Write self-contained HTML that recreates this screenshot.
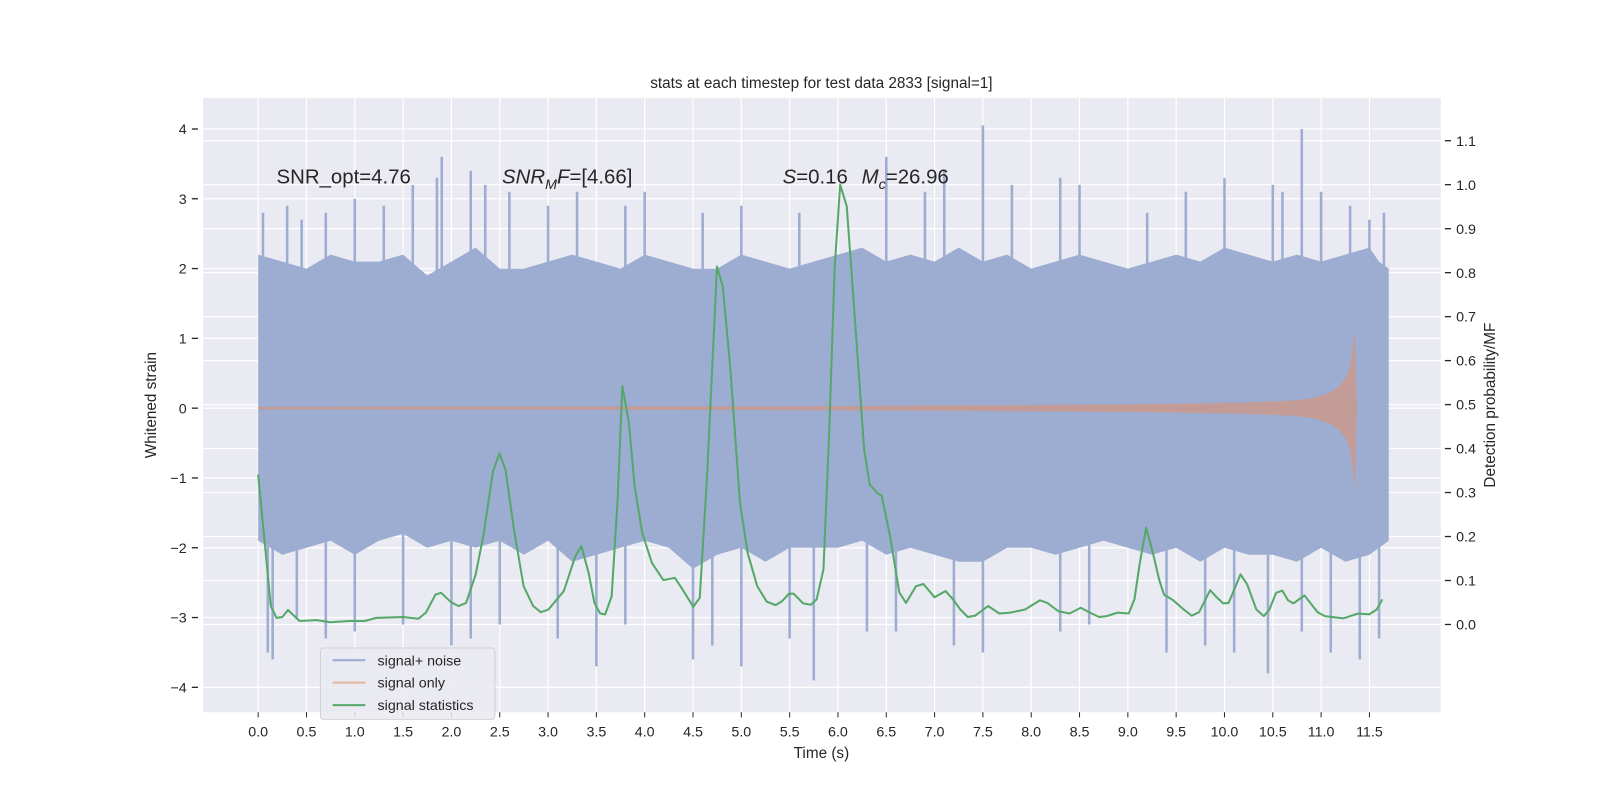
<!DOCTYPE html>
<html><head><meta charset="utf-8"><style>
body{margin:0;background:#fff;}
svg text{font-family:"Liberation Sans","DejaVu Sans",sans-serif;fill:#262626;}
</style></head><body>
<svg id="chart" width="1600" height="800" xmlns="http://www.w3.org/2000/svg">
<rect x="0" y="0" width="1600" height="800" fill="#fff"/>
<g transform="scale(1.0204)">
<rect x="199" y="96" width="1213" height="602" fill="#eaeaf2"/>
<g id="grid"></g>
<g id="noise"></g>
<g id="signal"></g>
<g id="stats"></g>
<g id="axes"></g>
<text x="805" y="86" font-size="15" text-anchor="middle">stats at each timestep for test data 2833 [signal=1]</text>
<text x="271" y="180" font-size="20">SNR_opt=4.76</text>
<text x="492" y="180" font-size="20"><tspan font-style="italic">SNR</tspan><tspan font-style="italic" font-size="14" dy="5">M</tspan><tspan font-style="italic" dy="-5">F</tspan>=[4.66]</text>
<text x="767" y="180" font-size="20"><tspan font-style="italic">S</tspan>=0.16  <tspan font-style="italic" dx="8">M</tspan><tspan font-style="italic" font-size="14" dy="5">c</tspan><tspan dy="-5">=26.96</tspan></text>
<text x="805" y="743" font-size="15" text-anchor="middle">Time (s)</text>
<text transform="translate(153,397) rotate(-90)" font-size="15" text-anchor="middle">Whitened strain</text>
<text transform="translate(1465,397) rotate(-90)" font-size="15" text-anchor="middle">Detection probability/MF</text>
<g>
<rect x="314" y="635" width="171" height="70" rx="3" fill="#eaeaf2" stroke="#cccccc" stroke-width="1" opacity="0.85"/>
<line x1="326" y1="647" x2="358" y2="647" stroke="#9aadd2" stroke-width="2"/>
<text x="370" y="652" font-size="14">signal+ noise</text>
<line x1="326" y1="669" x2="358" y2="669" stroke="#e6b39e" stroke-width="2"/>
<text x="370" y="674" font-size="14">signal only</text>
<line x1="326" y1="691" x2="358" y2="691" stroke="#55a868" stroke-width="2"/>
<text x="370" y="696" font-size="14">signal statistics</text>
</g>
</g>
</svg>
<script>
const xTicks=[0,0.5,1,1.5,2,2.5,3,3.5,4,4.5,5,5.5,6,6.5,7,7.5,8,8.5,9,9.5,10,10.5,11,11.5];
const yTicks=[-4,-3,-2,-1,0,1,2,3,4];
const y2Ticks=[0,0.1,0.2,0.3,0.4,0.5,0.6,0.7,0.8,0.9,1.0,1.1];
const envTimes=[0,0.25,0.5,0.75,1,1.25,1.5,1.75,2,2.25,2.5,2.75,3,3.25,3.5,3.75,4,4.25,4.5,4.75,5,5.25,5.5,5.75,6,6.25,6.5,6.75,7,7.25,7.5,7.75,8,8.25,8.5,8.75,9,9.25,9.5,9.75,10,10.25,10.5,10.75,11,11.25,11.5,11.6,11.7];
const upperEnv=[2.2,2.1,2.0,2.2,2.1,2.1,2.2,1.9,2.1,2.3,2.0,2.0,2.1,2.2,2.1,2.0,2.2,2.1,2.0,2.0,2.2,2.1,2.0,2.1,2.2,2.3,2.1,2.2,2.1,2.3,2.1,2.2,2.0,2.1,2.2,2.1,2.0,2.1,2.2,2.1,2.3,2.2,2.1,2.2,2.1,2.2,2.3,2.1,2.0];
const lowerEnv=[-1.9,-2.1,-2.0,-1.9,-2.1,-1.9,-1.8,-2.0,-1.9,-2.0,-1.9,-2.1,-1.9,-2.2,-2.1,-2.0,-1.9,-2.0,-2.3,-2.1,-2.0,-2.2,-2.0,-2.0,-2.0,-1.9,-2.1,-2.0,-2.1,-2.2,-2.2,-2.0,-2.0,-2.1,-2.0,-1.9,-2.0,-2.1,-2.0,-2.2,-2.0,-2.1,-2.1,-2.2,-2.0,-2.2,-2.1,-2.0,-1.9];
const spikeTimes=[0.05,0.3,0.45,0.7,1.0,1.3,1.6,1.85,1.9,2.2,2.35,2.6,3.0,3.3,3.8,4.0,4.6,5.0,5.6,6.5,6.9,7.1,7.5,7.8,8.3,8.5,9.2,9.6,10.0,10.5,10.6,10.8,11.0,11.3,11.5,11.65,
0.1,0.15,0.4,0.7,1.0,1.5,2.0,2.2,2.5,3.1,3.5,3.8,4.5,4.7,5.0,5.5,5.75,6.3,6.6,7.2,7.5,8.3,8.6,9.4,9.8,10.1,10.45,10.8,11.1,11.4,11.6];
const spikeValues=[2.8,2.9,2.7,2.8,3.0,2.9,3.2,3.3,3.6,3.4,3.2,3.1,2.9,3.1,2.9,3.1,2.8,2.9,2.8,3.6,3.1,3.4,4.05,3.2,3.3,3.2,2.8,3.1,3.3,3.2,3.1,4.0,3.1,2.9,2.7,2.8,
-3.5,-3.6,-3.0,-3.3,-3.2,-3.1,-3.4,-3.3,-3.1,-3.3,-3.7,-3.1,-3.6,-3.4,-3.7,-3.3,-3.9,-3.2,-3.2,-3.4,-3.5,-3.2,-3.1,-3.5,-3.4,-3.5,-3.8,-3.2,-3.5,-3.6,-3.3];
const sigTimes=[0,4,6,8,9,9.8,10.2,10.7,10.9,11.05,11.15,11.25,11.3,11.33,11.35,11.37];
const sigAmp=[0.02,0.025,0.03,0.045,0.055,0.07,0.08,0.11,0.14,0.2,0.27,0.42,0.6,0.9,1.1,0];
const statTimes=[0,0.131,0.19,0.25,0.309,0.428,0.606,0.745,0.943,1.102,1.221,1.499,1.658,1.736,1.835,1.894,1.994,2.073,2.152,2.251,2.33,2.43,2.497,2.56,2.647,2.747,2.846,2.925,3.004,3.163,3.282,3.345,3.42,3.48,3.539,3.591,3.658,3.718,3.769,3.837,3.896,3.975,4.075,4.193,4.312,4.391,4.503,4.57,4.649,4.748,4.808,4.887,4.986,5.065,5.165,5.263,5.355,5.422,5.493,5.541,5.64,5.719,5.779,5.85,5.908,5.965,6.023,6.091,6.176,6.271,6.329,6.406,6.452,6.539,6.635,6.704,6.807,6.884,6.999,7.114,7.191,7.267,7.344,7.42,7.554,7.669,7.784,7.937,8.091,8.167,8.282,8.397,8.512,8.607,8.703,8.78,8.895,9.009,9.068,9.124,9.189,9.259,9.324,9.374,9.469,9.584,9.661,9.737,9.852,9.91,9.986,10.043,10.166,10.235,10.33,10.407,10.465,10.534,10.599,10.657,10.713,10.828,10.963,11.039,11.231,11.384,11.498,11.575,11.633];
const statValues=[0.341,0.042,0.015,0.017,0.033,0.008,0.010,0.005,0.008,0.008,0.015,0.017,0.013,0.027,0.068,0.072,0.051,0.042,0.049,0.114,0.201,0.348,0.389,0.352,0.216,0.087,0.042,0.028,0.034,0.076,0.155,0.178,0.117,0.049,0.025,0.023,0.064,0.277,0.542,0.458,0.314,0.208,0.140,0.101,0.106,0.080,0.040,0.061,0.352,0.814,0.769,0.580,0.277,0.163,0.087,0.052,0.044,0.053,0.070,0.070,0.048,0.045,0.057,0.125,0.428,0.807,1.0,0.951,0.693,0.398,0.318,0.299,0.293,0.201,0.073,0.049,0.087,0.092,0.062,0.076,0.057,0.034,0.017,0.020,0.042,0.025,0.027,0.034,0.055,0.049,0.030,0.025,0.038,0.027,0.017,0.019,0.027,0.025,0.057,0.140,0.220,0.163,0.102,0.068,0.055,0.033,0.020,0.028,0.078,0.064,0.048,0.049,0.114,0.091,0.034,0.019,0.034,0.072,0.077,0.055,0.048,0.066,0.028,0.019,0.014,0.025,0.023,0.034,0.057];

const NS='http://www.w3.org/2000/svg';
const X=t=>253+t*94.7;
const Y=v=>400-v*68.4;
const Y2=p=>612-p*431;
function mk(tag,parent,attrs){const e=document.createElementNS(NS,tag);for(const k in attrs)e.setAttribute(k,attrs[k]);parent.appendChild(e);return e;}
const grid=document.getElementById('grid'),axes=document.getElementById('axes');
xTicks.forEach(t=>{
  const l=mk('line',grid,{x1:X(t),x2:X(t),y1:96,y2:698,stroke:'#fff','stroke-width':1.2});
  
  
  mk('line',axes,{x1:X(t),x2:X(t),y1:698,y2:703,stroke:'#262626','stroke-width':1});
  const tx=mk('text',axes,{x:X(t),y:722,'font-size':14,'text-anchor':'middle'});tx.textContent=t.toFixed(1);
  
  
});
yTicks.forEach(v=>{
  const l=mk('line',grid,{x1:199,x2:1412,y1:Y(v),y2:Y(v),stroke:'#fff','stroke-width':1.2});
  
  
  mk('line',axes,{x1:188,x2:194,y1:Y(v),y2:Y(v),stroke:'#262626','stroke-width':1.3});
  const tx=mk('text',axes,{x:183,y:Y(v)+5,'font-size':14,'text-anchor':'end'});tx.textContent=v<0?'\u2212'+(-v):String(v);
  
  
});
y2Ticks.forEach(p=>{
  const l=mk('line',grid,{x1:199,x2:1412,y1:Y2(p),y2:Y2(p),stroke:'#fff','stroke-width':1.2});
  
  
  mk('line',axes,{x1:1416,x2:1422,y1:Y2(p),y2:Y2(p),stroke:'#262626','stroke-width':1.3});
  const tx=mk('text',axes,{x:1427,y:Y2(p)+5,'font-size':14});tx.textContent=p.toFixed(1);
  
  
});
const noise=document.getElementById('noise');
let pts=envTimes.map((t,i)=>X(t)+','+Y(upperEnv[i]));
for(let i=envTimes.length-1;i>=0;i--)pts.push(X(envTimes[i])+','+Y(lowerEnv[i]));
const band=mk('polygon',noise,{points:pts.join(' '),fill:'#9cadd1'});


spikeTimes.forEach((t,i)=>{
  const v=spikeValues[i];
  const s=mk('line',noise,{x1:X(t),x2:X(t),y1:Y(v>0?1.8:-1.6),y2:Y(v),stroke:'#9cadd1','stroke-width':2.5});
  
  
});
const sig=document.getElementById('signal');
let sp=sigTimes.map((t,i)=>X(t)+','+Y(sigAmp[i]));
for(let i=sigTimes.length-1;i>=0;i--)sp.push(X(sigTimes[i])+','+Y(-sigAmp[i]*(i==sigTimes.length-2?1.1:1)));
const sg=mk('polygon',sig,{points:sp.join(' '),fill:'#c99a90',opacity:0.9});


const st=document.getElementById('stats');
const sl=mk('polyline',st,{points:statTimes.map((t,i)=>X(t)+','+Y2(statValues[i])).join(' '),fill:'none',stroke:'#55a868','stroke-width':2,'stroke-linejoin':'round'});


</script>
</body></html>
